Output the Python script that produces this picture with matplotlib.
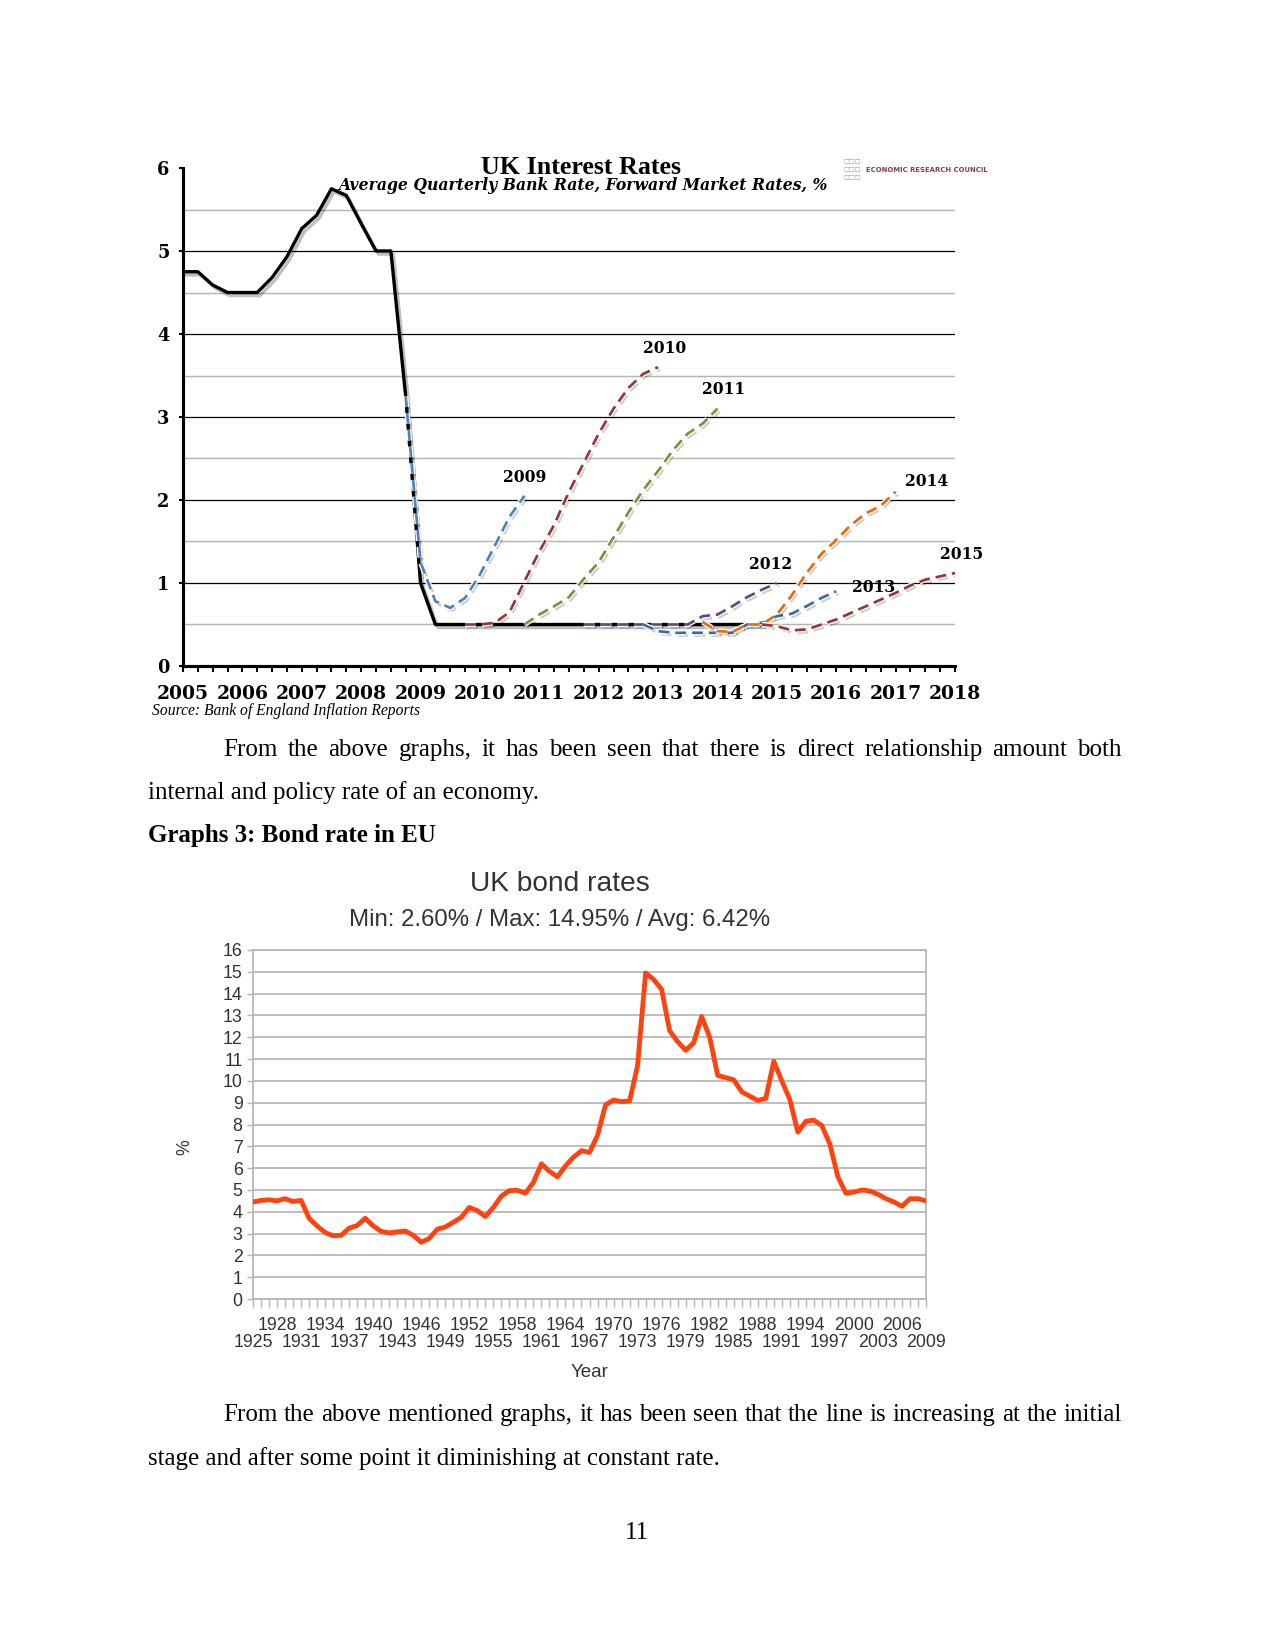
import numpy as np
import matplotlib.pyplot as plt
import matplotlib.patheffects as pe
import matplotlib.ticker as ticker

plt.rcParams['font.family'] = ['Liberation Serif', 'DejaVu Serif']

# ---- UK interest rates (quarterly, %) ----
bank_start = 2005.0
bank_rate = [4.75, 4.75, 4.59, 4.5, 4.5, 4.5, 4.68, 4.93, 5.27, 5.43, 5.75, 5.67,
             5.33, 5.0, 5.0, 3.25, 1.0] + [0.5] * 23

fwd_2009 = [3.25, 1.25, 0.78, 0.7, 0.82, 1.1, 1.45, 1.8, 2.05]
fwd_2010 = [0.5, 0.5, 0.52, 0.65, 1.02, 1.38, 1.7, 2.1, 2.45, 2.8, 3.1, 3.35, 3.52, 3.6]
fwd_2011 = [0.5, 0.62, 0.72, 0.83, 1.05, 1.25, 1.55, 1.85, 2.12, 2.35, 2.6, 2.8, 2.92, 3.1]
fwd_2012 = [0.5, 0.5, 0.5, 0.5, 0.5, 0.5, 0.5, 0.5, 0.6, 0.62, 0.72, 0.83, 0.92, 1.0]
fwd_2013 = [0.5, 0.42, 0.4, 0.4, 0.4, 0.4, 0.4, 0.5, 0.52, 0.6, 0.63, 0.72, 0.82, 0.9]
fwd_2014 = [0.53, 0.42, 0.41, 0.5, 0.5, 0.62, 0.85, 1.12, 1.35, 1.52, 1.7, 1.84, 1.93, 2.1]
fwd_2015 = [0.5, 0.48, 0.43, 0.44, 0.5, 0.56, 0.64, 0.72, 0.8, 0.88, 0.97, 1.04, 1.08, 1.12]
fwd_names = ['2009', '2010', '2011', '2012', '2013', '2014', '2015']
fwd_starts = [2008.75, 2009.75, 2010.75, 2011.75, 2012.75, 2013.75, 2014.75]
fwd_values = [fwd_2009, fwd_2010, fwd_2011, fwd_2012, fwd_2013, fwd_2014, fwd_2015]
fwd_colors = ['#4f81bd', '#953735', '#77933c', '#604a7b', '#3f6aa1', '#e46c0a', '#953735']
year_labels_top = [str(y) for y in range(2005, 2019)]

# ---- UK bond rates (annual, %) ----
bond_years = list(range(1925, 2010))
bond_rate = [4.45, 4.52, 4.55, 4.5, 4.6, 4.47, 4.52, 3.7, 3.35, 3.05,
             2.9, 2.92, 3.25, 3.37, 3.7, 3.35, 3.1, 3.03, 3.08, 3.12,
             2.92, 2.6, 2.78, 3.2, 3.3, 3.52, 3.75, 4.2, 4.05, 3.78,
             4.2, 4.72, 4.97, 4.98, 4.85, 5.35, 6.2, 5.85, 5.6, 6.1,
             6.5, 6.8, 6.72, 7.5, 8.9, 9.12, 9.05, 9.08, 10.7, 14.95,
             14.65, 14.2, 12.3, 11.8, 11.4, 11.75, 12.95, 12.0, 10.25, 10.15,
             10.05, 9.5, 9.3, 9.1, 9.2, 10.9, 10.0, 9.15, 7.65, 8.15,
             8.2, 7.95, 7.1, 5.6, 4.85, 4.9, 5.0, 4.95, 4.8, 4.6,
             4.45, 4.25, 4.6, 4.6, 4.5]
lower_row_years = list(range(1925, 2010, 6))
upper_row_years = list(range(1928, 2010, 6))

W, H = 1275, 1650
fig = plt.figure(figsize=(8.5, 11), dpi=150)


def fx(px):
    return px / W


def fy(py):
    return 1 - py / H


# ================= top chart =================
ax1 = fig.add_axes([fx(183), fy(666), (955 - 183) / W, (666 - 168) / H])
ax1.set_xlim(2005, 2018)
ax1.set_ylim(0, 6)

for v in range(1, 6):
    ax1.axhline(v, color='black', lw=0.6, zorder=1)
ax1.yaxis.set_minor_locator(ticker.MultipleLocator(0.5))
ax1.grid(which='minor', axis='y', color='#b5b5b5', lw=0.7, zorder=0)

bx = bank_start + 0.25 * np.arange(len(bank_rate))
ax1.plot(bx, bank_rate, color='black', lw=1.6, zorder=3,
         path_effects=[pe.SimpleLineShadow(offset=(1.2, -1.5), alpha=0.25),
                       pe.Normal()])

for name, s, vals, c in zip(fwd_names, fwd_starts, fwd_values, fwd_colors):
    xs = s + 0.25 * np.arange(len(vals))
    ax1.plot(xs, vals, color=c, lw=1.3, dashes=(4, 2.2), zorder=4,
             path_effects=[pe.SimpleLineShadow(offset=(1.0, -1.3), alpha=0.2),
                           pe.Stroke(linewidth=2.6, foreground='white'),
                           pe.Normal()])

label_offsets = {'2009': (0, 9), '2010': (3, 9), '2011': (3, 9), '2012': (-3, 9),
                 '2013': (18, 2), '2014': (15, 5), '2015': (3, 9)}
for name, s, vals in zip(fwd_names, fwd_starts, fwd_values):
    xe = s + 0.25 * (len(vals) - 1)
    ax1.annotate(name, xy=(xe, vals[-1]), xytext=label_offsets[name],
                 textcoords='offset points', ha='center', va='center',
                 fontsize=7.5, fontweight='bold', family='DejaVu Serif', zorder=6)

ax1.set_xticks(range(2005, 2019))
ax1.set_xticklabels(year_labels_top)
ax1.xaxis.set_minor_locator(ticker.MultipleLocator(0.25))
ax1.set_yticks(range(0, 7))
ax1.tick_params(axis='x', which='both', direction='out', length=3, width=1,
                pad=6, labelsize=9, colors='black')
ax1.tick_params(axis='y', which='major', direction='out', length=2, width=1,
                pad=4.5, labelsize=8.5)
ax1.tick_params(axis='y', which='minor', length=0)
for lab in ax1.get_xticklabels() + ax1.get_yticklabels():
    lab.set_family('DejaVu Serif')
    lab.set_fontweight('bold')
for sp in ['top', 'right']:
    ax1.spines[sp].set_visible(False)
for sp in ['left', 'bottom']:
    ax1.spines[sp].set_linewidth(1.5)

fig.text(fx(581), fy(167), 'UK Interest Rates', ha='center', va='center',
         fontsize=12.5, fontweight='bold', family='Liberation Serif')
fig.text(fx(583), fy(185), 'Average Quarterly Bank Rate, Forward Market Rates, %',
         ha='center', va='center', fontsize=7.5, fontweight='bold', style='italic',
         family='DejaVu Serif')
fig.text(fx(152), fy(711), 'Source: Bank of England Inflation Reports', ha='left',
         va='center', fontsize=7.5, style='italic', family='Liberation Serif')
for yy in (162, 170, 178):
    fig.text(fx(843), fy(yy), '\u25a1\u25a1\u25a1', ha='left', va='center',
             fontsize=3.0, color='#9a9a9a', family='DejaVu Sans')
fig.text(fx(866), fy(170), 'ECONOMIC RESEARCH COUNCIL', ha='left', va='center',
         fontsize=3.3, fontweight='bold', color='#8a3c52', family='DejaVu Sans')

# ================= bottom chart =================
sans = 'Liberation Sans'
grey_txt = '#333333'
ax2 = fig.add_axes([fx(253), fy(1299), (926 - 253) / W, (1299 - 950) / H])
ax2.set_xlim(1925, 2009)
ax2.set_ylim(0, 16)
ax2.plot(bond_years, bond_rate, color='#ff420e', lw=2.3, zorder=3,
         solid_joinstyle='round')
ax2.set_yticks(range(0, 17))
ax2.grid(axis='y', color='#b3b3b3', lw=0.8, zorder=0)
ax2.set_xticks(lower_row_years)
ax2.set_xticklabels([str(y) for y in lower_row_years])
ax2.xaxis.set_minor_locator(ticker.MultipleLocator(1))
ax2.tick_params(axis='x', which='both', direction='out', length=4, width=0.7,
                color='#b3b3b3', pad=13, labelsize=8.5, labelcolor=grey_txt)
ax2.tick_params(axis='y', direction='out', length=3, width=0.7, color='#b3b3b3',
                pad=2, labelsize=8.5, labelcolor=grey_txt)
for lab in ax2.get_xticklabels() + ax2.get_yticklabels():
    lab.set_family(sans)
for y in upper_row_years:
    ax2.annotate(str(y), xy=(y, 0), xycoords=('data', 'axes fraction'),
                 xytext=(0, -12.5), textcoords='offset points', ha='center',
                 va='center', family=sans, fontsize=8.5, color=grey_txt)
for sp in ax2.spines.values():
    sp.set_color('#b3b3b3')
    sp.set_linewidth(0.8)
ax2.set_xlabel('Year', family=sans, fontsize=9, color=grey_txt, labelpad=6)
fig.text(fx(185), fy(1147), '%', rotation=90, ha='center', va='center',
         family=sans, fontsize=8.5, color=grey_txt)
fig.text(fx(560), fy(884), 'UK bond rates', ha='center', va='center',
         family=sans, fontsize=13.5, color=grey_txt)
fig.text(fx(560), fy(920), 'Min: 2.60% / Max: 14.95% / Avg: 6.42%', ha='center',
         va='center', family=sans, fontsize=11.5, color=grey_txt)

# ================= page text =================
body = dict(fontsize=12, family='Liberation Serif', color='black')


def justified(text, x0, x1, y):
    words = text.split()
    r = fig.canvas.get_renderer()
    objs = [fig.text(0, fy(y), w, va='center', ha='left', **body) for w in words]
    ws = [o.get_window_extent(r).width for o in objs]
    gap = ((x1 - x0) - sum(ws)) / (len(words) - 1)
    x = x0
    for o, w in zip(objs, ws):
        o.set_x(fx(x))
        x += w + gap


justified('From the above graphs, it has been seen that there is direct relationship amount both',
          223, 1122, 750)
fig.text(fx(148), fy(793), 'internal and policy rate of an economy.', va='center', **body)
fig.text(fx(148), fy(835), 'Graphs 3: Bond rate in EU', va='center', fontweight='bold',
         **body)
justified('From the above mentioned graphs, it has been seen that the line is increasing at the initial',
          223, 1122, 1415)
fig.text(fx(148), fy(1459), 'stage and after some point it diminishing at constant rate.',
         va='center', **body)
fig.text(fx(637), fy(1533), '11', ha='center', va='center', **body)

fig.savefig('out.png', dpi=150)
